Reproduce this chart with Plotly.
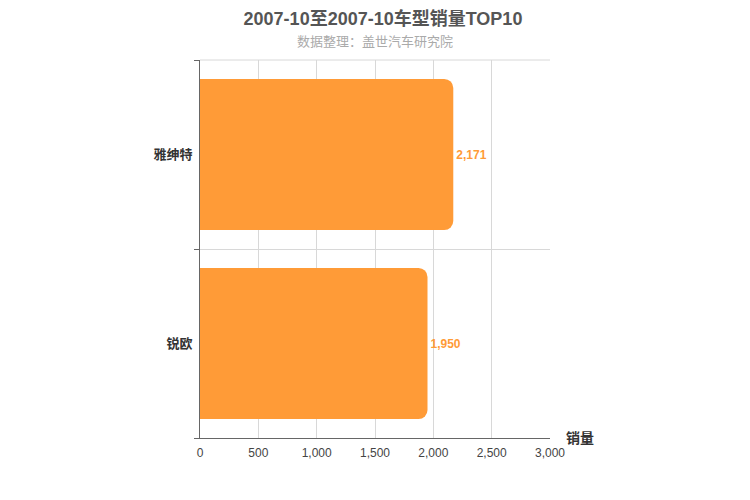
import plotly.graph_objects as go

# 车型销量数据
models = ["锐欧", "雅绅特"]
sales = [1950, 2171]
x_ticks = [0, 500, 1000, 1500, 2000, 2500, 3000]

font_family = "Liberation Sans, Noto Sans CJK SC, sans-serif"
orange = "#FF9B37"

fig = go.Figure()

fig.add_trace(go.Bar(
    y=models,
    x=sales,
    orientation="h",
    marker=dict(color=orange, line=dict(width=0)),
    text=[f"<b>{v:,}</b>" for v in sales],
    textposition="outside",
    textfont=dict(color=orange, size=12, family=font_family),
    cliponaxis=False,
    hoverinfo="x+y",
))

fig.update_layout(
    width=750,
    height=500,
    margin=dict(l=192, r=208, t=52, b=70),
    plot_bgcolor="white",
    paper_bgcolor="white",
    font=dict(family=font_family, color="#333"),
    bargap=0.2,
    barcornerradius=9,
    showlegend=False,
    title=dict(
        text="<b>2007-10至2007-10车型销量TOP10</b>",
        x=0.5, xanchor="center", y=0.978, yanchor="middle",
        yref="container",
        font=dict(size=18, color="#555"),
    ),
    xaxis=dict(
        range=[0, 3000],
        tickvals=x_ticks,
        tickformat=",",
        showgrid=True,
        gridcolor="#d8d8d8",
        gridwidth=1,
        showline=True,
        linecolor="#666",
        linewidth=1,
        mirror=False,
        zeroline=False,
        ticks="",
        ticklabelstandoff=4,
        tickfont=dict(size=12, color="#444"),
    ),
    yaxis=dict(
        showgrid=True,
        gridcolor="#d8d8d8",
        tickson="boundaries",
        ticks="outside",
        ticklen=5,
        tickcolor="#666",
        showline=True,
        linecolor="#666",
        linewidth=1,
        ticklabelstandoff=4,
        tickfont=dict(size=13, color="#333"),
        ticktext=[f"<b>{m}</b>" for m in models],
        tickvals=models,
    ),
    annotations=[
        dict(
            text="数据整理：盖世汽车研究院",
            xref="paper", yref="paper", x=0.5, y=1.0,
            yshift=19, xanchor="center", yanchor="middle",
            showarrow=False, font=dict(size=13, color="#aaa"),
        ),
        dict(
            text="<b>销量</b>",
            xref="paper", yref="paper", x=1.0, y=0,
            xshift=14, xanchor="left", yanchor="middle",
            showarrow=False, font=dict(size=14, color="#333"),
        ),
    ],
)

# 顶部网格边框
fig.add_shape(type="line", xref="paper", yref="paper", x0=0, x1=1, y0=1, y1=1,
              line=dict(color="#d8d8d8", width=1))

fig.write_html("out.html")
